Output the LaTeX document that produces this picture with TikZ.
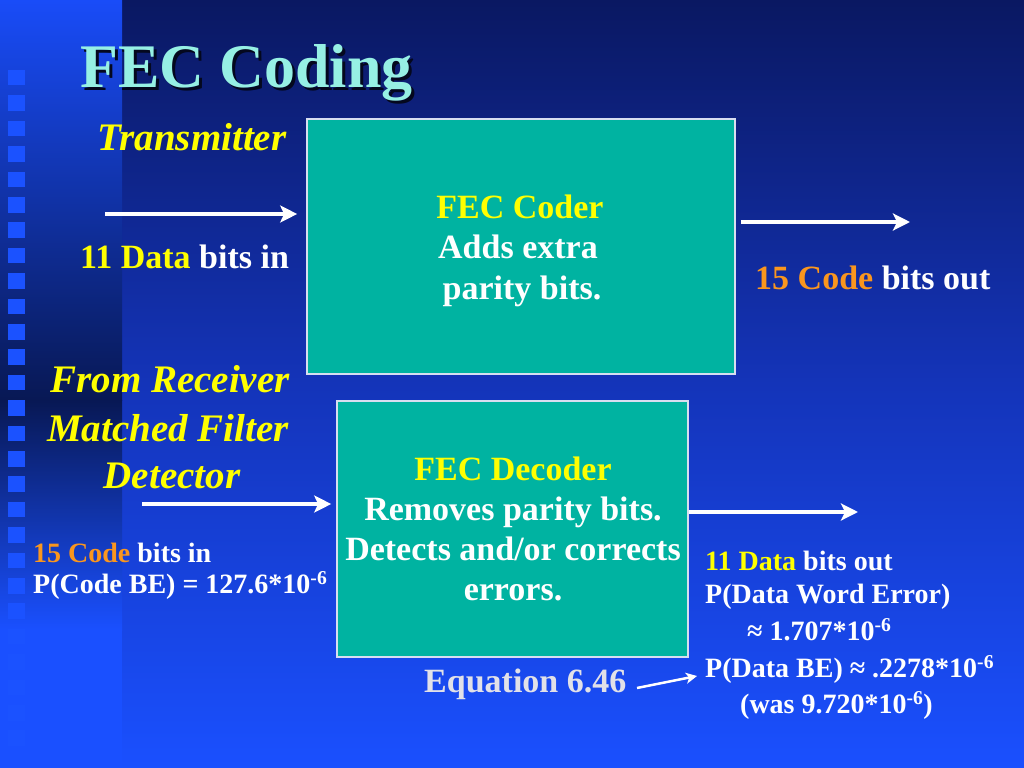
\documentclass[tikz,border=0pt]{standalone}
\usepackage{fontspec}
\setmainfont{Liberation Serif}
\usetikzlibrary{arrows.meta}
\definecolor{rtop}{RGB}{10,24,98}
\definecolor{rmid}{RGB}{20,52,185}
\definecolor{rbot}{RGB}{26,80,255}
\definecolor{ltop}{RGB}{25,76,248}
\definecolor{lmid}{RGB}{8,24,84}
\definecolor{lbot}{RGB}{26,80,255}
\definecolor{sqcol}{RGB}{27,82,255}
\definecolor{teal}{RGB}{0,179,161}
\definecolor{boxline}{RGB}{215,222,240}
\definecolor{titlecol}{RGB}{150,240,228}
\definecolor{ylw}{RGB}{255,255,0}
\definecolor{org}{RGB}{250,150,30}
\definecolor{eqgray}{RGB}{225,225,232}
\definecolor{shadowcol}{RGB}{4,8,30}
\tikzset{
  txt/.style={inner sep=0pt, text=white, font=\fontsize{34bp}{40bp}\selectfont\bfseries},
  small/.style={inner sep=0pt, text=white, font=\fontsize{28bp}{34bp}\selectfont\bfseries},
  ital/.style={inner sep=0pt, text=ylw, font=\fontsize{39bp}{46bp}\selectfont\bfseries\itshape},
  block/.style={draw=boxline, line width=1.6bp, fill=teal, inner sep=0pt},
  arr/.style={draw=white, line width=4bp, -{Stealth[length=17bp,width=17bp,inset=4bp]}},
  thinarr/.style={draw=white, line width=2.5bp, -{Stealth[length=11bp,width=11bp,inset=3bp]}},
  sq/.style={fill=sqcol}
}
\begin{document}
\begin{tikzpicture}[x=1bp,y=-1bp]
\useasboundingbox (0,0) rectangle (1024,768);
% background
\fill[top color=rtop, bottom color=rbot, middle color=rmid] (122,0) rectangle (1024,768);
\fill[top color=ltop, bottom color=lmid] (0,0) rectangle (122,400);
\fill[top color=lmid, bottom color=lbot] (0,400) rectangle (122,630);
\fill[lbot] (0,630) rectangle (122,768);
\foreach \i in {0,...,26} \fill[sq] (8,{70+25.4*\i}) rectangle ++(17,15.5);
% title
\node[inner sep=0pt, anchor=base west, text=shadowcol, font=\fontsize{62bp}{70bp}\selectfont\bfseries] (titleshadow) at (83,91) {FEC Coding};
\node[inner sep=0pt, anchor=base west, text=titlecol, font=\fontsize{62bp}{70bp}\selectfont\bfseries] (title) at (80,88) {FEC Coding};
% blocks
\node[block, minimum width=428bp, minimum height=255bp] (coder) at (521,246.5) {};
\node[block, minimum width=351bp, minimum height=256bp] (decoder) at (512.5,529) {};
% coder text
\node[txt, anchor=base, text=ylw] (c1) at (520,218) {FEC Coder};
\node[txt, anchor=base] (c2) at (518,258) {Adds extra};
\node[txt, anchor=base] (c3) at (522,299) {parity bits.};
% decoder text
\node[txt, anchor=base, text=ylw] (d1) at (513,480) {FEC Decoder};
\node[txt, anchor=base] (d2) at (513,520) {Removes parity bits.};
\node[txt, anchor=base] (d3) at (513,560) {Detects and/or corrects};
\node[txt, anchor=base] (d4) at (513,600) {errors.};
% transmitter side
\node[ital, anchor=base west] (tx) at (97,150) {Transmitter};
\node[txt, anchor=base west] (din) at (80,268) {\textcolor{ylw}{11 Data} bits in};
\node[txt, anchor=base west] (cout) at (755,289) {\textcolor{org}{15 Code} bits out};
% receiver side
\node[ital, anchor=base] (rx1) at (170,392) {From Receiver};
\node[ital, anchor=base] (rx2) at (168,441) {Matched Filter};
\node[ital, anchor=base] (rx3) at (172,488) {Detector};
\node[small, anchor=base west] (cin) at (33,562) {\textcolor{org}{15 Code} bits in};
\node[small, anchor=base west] (pcbe) at (33,593) {P(Code BE) = 127.6*10\textsuperscript{-6}};
\node[small, anchor=base west] (dout) at (705,570) {\textcolor{ylw}{11 Data} bits out};
\node[small, anchor=base west] (pwe) at (705,603) {P(Data Word Error)};
\node[small, anchor=base west] (pwev) at (747,640) {≈ 1.707*10\textsuperscript{-6}};
\node[small, anchor=base west] (pdbe) at (705,677) {P(Data BE) ≈ .2278*10\textsuperscript{-6}};
\node[small, anchor=base west] (was) at (740,713) {(was 9.720*10\textsuperscript{-6})};
\node[txt, anchor=base west, text=eqgray] (eq) at (424,692) {Equation 6.46};
% arrows
\coordinate (in1) at (105,214);
\coordinate (out1) at (910,222);
\coordinate (in2) at (142,504);
\coordinate (out2) at (858,512);
\coordinate (eqs) at (637,688);
\coordinate (eqe) at (697,676);
\draw[arr, shorten >=9bp] (in1) -- (in1 -| coder.west);
\draw[arr, shorten <=5bp] (coder.east |- out1) -- (out1);
\draw[arr, shorten >=5bp] (in2) -- (in2 -| decoder.west);
\draw[arr] (decoder.east |- out2) -- (out2);
\draw[thinarr] (eqs) -- (eqe);
\end{tikzpicture}
\end{document}
